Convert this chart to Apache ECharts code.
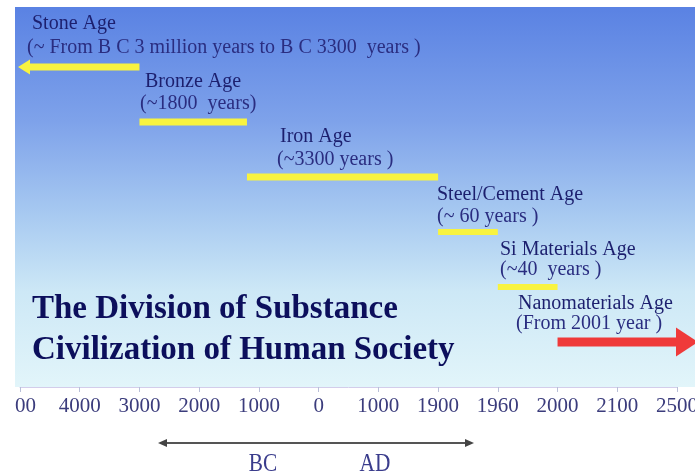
<!DOCTYPE html>
<html><head><meta charset="utf-8">
<script src="https://cdn.jsdelivr.net/npm/echarts@6/dist/echarts.min.js"></script>
<style>html,body{margin:0;padding:0;background:#fff;}#c{width:695px;height:476px;}</style>
</head><body><div id="c"></div>
<script>
// ---- data ----
const tickYears  = [-5000,-4000,-3000,-2000,-1000,0,1000,1900,1960,2000,2100,2500];
const tickLabels = ['5000','4000','3000','2000','1000','0','1000','1900','1960','2000','2100','2500'];
const ageNames = ['Stone Age','Bronze Age','Iron Age','Steel/Cement Age','Si Materials Age','Nanomaterials Age'];
const ageNotes = ['(~ From B C 3 million years to B C 3300  years )','(~1800  years)','(~3300 years )','(~ 60 years )','(~40  years )','(From 2001 year )'];
const ageStartYears = [-5000,-3000,-1200,1900,1960,2000];
const ageEndYears   = [-3000,-1200,1900,1960,2000,2500];
const ageArrows = ['start','none','none','none','none','end'];
const titleLines = ['The Division of Substance','Civilization of Human Society'];
const eraLabels = ['BC','AD'];

// ---- styles / layout (not data) ----
const YEL = '#f8f340', RED = '#ef3a3a';
const barStyles = [
  {color:YEL,h:7,headLen:12,headH:15},
  {color:YEL,h:7},{color:YEL,h:7},{color:YEL,h:6},{color:YEL,h:6},
  {color:RED,h:9,headLen:22,headH:29}
];
const textPos = [ // [nameX,nameY,noteX,noteY]
  [32,24,27,48],[145,82,140,104],[280,137,277,160],[437,195,437,217],[500,250,500,270],[518,304,516,324]
];
const SERIF = '"Liberation Serif","Times New Roman",serif';
const TXT = '#1c1f6e';

function yearToPos(y){
  for(let i=0;i<tickYears.length-1;i++){
    if(y<=tickYears[i+1]) return i+(y-tickYears[i])/(tickYears[i+1]-tickYears[i]);
  }
  return tickYears.length-1;
}
const barData = ageNames.map((n,i)=>[yearToPos(ageStartYears[i]),yearToPos(ageEndYears[i]),i]);

const graphics = [
  {type:'rect',z:-100,silent:true,shape:{x:15,y:7,width:680,height:380},
   style:{fill:new echarts.graphic.LinearGradient(0,0,0,1,[
     {offset:0,color:'#5a82e3'},{offset:0.3,color:'#7ea2ea'},{offset:0.55,color:'#a8caf1'},
     {offset:0.75,color:'#cde8f6'},{offset:1,color:'#e2f5fa'}])}},
  {type:'rect',z:100,silent:true,shape:{x:0,y:0,width:15,height:476},style:{fill:'#fff'}}
];
ageNames.forEach((n,i)=>{
  const p=textPos[i];
  graphics.push({type:'text',z:50,x:p[0],y:p[1],style:{text:n,font:'20px '+SERIF,fill:TXT,textVerticalAlign:'middle'}});
  graphics.push({type:'text',z:50,x:p[2],y:p[3],style:{text:ageNotes[i],font:'20px '+SERIF,fill:'#2a2d80',textVerticalAlign:'middle'}});
});
titleLines.forEach((t,i)=>{
  graphics.push({type:'text',z:50,x:32,y:309+i*41,style:{text:t,font:'bold 33px '+SERIF,fill:'#0c0f5c',textVerticalAlign:'middle'}});
});
// BC / AD double arrow
graphics.push({type:'line',z:50,shape:{x1:164,y1:443,x2:469,y2:443},style:{stroke:'#555',lineWidth:2}});
graphics.push({type:'polygon',z:50,shape:{points:[[158,443],[167,439],[167,447]]},style:{fill:'#444'}});
graphics.push({type:'polygon',z:50,shape:{points:[[474,443],[465,439],[465,447]]},style:{fill:'#444'}});
eraLabels.forEach((t,i)=>{
  graphics.push({type:'text',z:50,x:[263,375][i],y:464,scaleX:0.82,style:{text:t,font:'26px '+SERIF,fill:'#3a3c8c',textAlign:'center',textVerticalAlign:'middle'}});
});

const chart = echarts.init(document.getElementById('c'),null,{renderer:'canvas'});
chart.setOption({
  animation:false,
  grid:{left:20,right:18,top:67,bottom:134,containLabel:false,outerBoundsMode:'none'},
  xAxis:{type:'value',min:0,max:tickLabels.length-1,interval:1,offset:45,
    axisLine:{show:true,lineStyle:{color:'#d3cdea',width:1}},
    axisTick:{show:true,length:5,lineStyle:{color:'#b9bfd8'}},
    splitLine:{show:false},
    axisLabel:{show:true,margin:9,showMinLabel:true,showMaxLabel:true,
      fontFamily:SERIF,fontSize:21,color:'#3b3c7c',
      formatter:v=> v===0 ? '{first|'+tickLabels[0]+'}' : tickLabels[Math.round(v)],
      rich:{first:{fontFamily:SERIF,fontSize:21,color:'#3b3c7c',padding:[0,10,0,0]}}}},
  yAxis:{type:'category',data:ageNames,inverse:true,boundaryGap:false,show:false},
  graphic:graphics,
  series:[{
    type:'custom',z:10,clip:false,
    encode:{x:[0,1],y:2},
    data:barData,
    renderItem:function(params,api){
      const i=params.dataIndex, row=api.value(2);
      const p1=api.coord([api.value(0),row]), p2=api.coord([api.value(1),row]);
      const s=barStyles[i], y=p1[1];
      let x1=p1[0], x2=p2[0];
      const ch=[];
      if(ageArrows[i]==='start'){
        const tip=x1-2, base=tip+s.headLen;
        ch.push({type:'polygon',shape:{points:[[tip,y],[base,y-s.headH/2],[base,y+s.headH/2]]},style:{fill:s.color}});
        x1=base-1;
      }
      if(ageArrows[i]==='end'){
        const tip=x2+21, base=tip-s.headLen;
        ch.push({type:'polygon',shape:{points:[[tip,y],[base,y-s.headH/2],[base,y+s.headH/2]]},style:{fill:s.color}});
        x2=base+1;
      }
      ch.push({type:'rect',shape:{x:x1,y:y-s.h/2,width:x2-x1,height:s.h},style:{fill:s.color}});
      return {type:'group',children:ch};
    }
  }]
});
</script></body></html>
